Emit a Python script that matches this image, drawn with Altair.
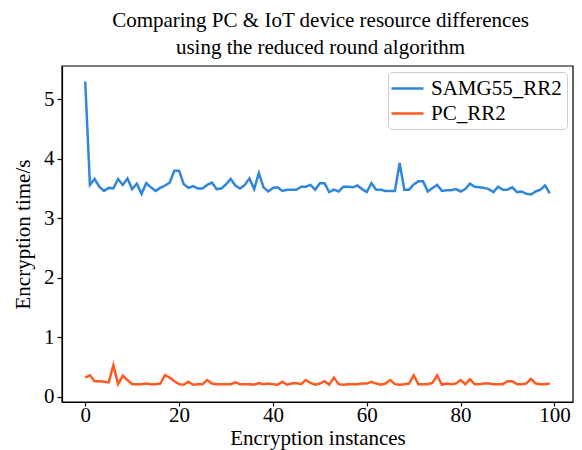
import altair as alt
import pandas as pd

instances = list(range(100))
samg55_rr2 = [5.30, 3.56, 3.66, 3.53, 3.46, 3.51, 3.50, 3.66, 3.56, 3.67,
              3.49, 3.58, 3.41, 3.59, 3.52, 3.46, 3.51, 3.55, 3.60, 3.80,
              3.80, 3.57, 3.51, 3.54, 3.50, 3.50, 3.56, 3.60, 3.49, 3.50,
              3.57, 3.66, 3.55, 3.50, 3.56, 3.67, 3.49, 3.76, 3.52, 3.45,
              3.51, 3.52, 3.46, 3.48, 3.48, 3.48, 3.53, 3.53, 3.56, 3.48,
              3.59, 3.59, 3.44, 3.48, 3.45, 3.53, 3.53, 3.52, 3.55, 3.49,
              3.44, 3.59, 3.48, 3.48, 3.46, 3.46, 3.46, 3.93, 3.48, 3.48,
              3.57, 3.62, 3.62, 3.45, 3.51, 3.56, 3.46, 3.47, 3.47, 3.49,
              3.45, 3.49, 3.58, 3.53, 3.52, 3.51, 3.49, 3.44, 3.53, 3.48,
              3.48, 3.52, 3.44, 3.45, 3.41, 3.40, 3.45, 3.48, 3.55, 3.42]
pc_rr2 = [0.32, 0.36, 0.26, 0.26, 0.25, 0.24, 0.53, 0.21, 0.35, 0.28,
          0.21, 0.21, 0.21, 0.22, 0.21, 0.21, 0.22, 0.36, 0.32, 0.26,
          0.21, 0.20, 0.25, 0.20, 0.21, 0.21, 0.28, 0.22, 0.21, 0.21,
          0.21, 0.21, 0.24, 0.21, 0.21, 0.21, 0.20, 0.23, 0.21, 0.22,
          0.21, 0.20, 0.25, 0.20, 0.22, 0.23, 0.21, 0.28, 0.23, 0.20,
          0.22, 0.26, 0.20, 0.32, 0.21, 0.20, 0.21, 0.21, 0.21, 0.22,
          0.22, 0.25, 0.22, 0.20, 0.22, 0.28, 0.21, 0.20, 0.21, 0.22,
          0.36, 0.21, 0.21, 0.21, 0.23, 0.36, 0.20, 0.22, 0.21, 0.22,
          0.28, 0.21, 0.29, 0.21, 0.21, 0.22, 0.22, 0.21, 0.21, 0.21,
          0.26, 0.26, 0.21, 0.21, 0.22, 0.30, 0.22, 0.21, 0.21, 0.22]
series_names = ["SAMG55_RR2", "PC_RR2"]
series_colors = ["#2f86dc", "#ff5a1f"]
x_ticks = [0, 20, 40, 60, 80, 100]
y_ticks = [0, 1, 2, 3, 4, 5]

df = pd.concat([
    pd.DataFrame({"instance": instances, "time": samg55_rr2, "series": series_names[0]}),
    pd.DataFrame({"instance": instances, "time": pc_rr2, "series": series_names[1]}),
])

FONT = "Liberation Serif"
FS = 21
W, H = 511, 336
x_scale = alt.Scale(domain=[-4.95, 103.95], nice=False, zero=False)
y_scale = alt.Scale(domain=[-0.09, 5.56], nice=False, zero=False)

lines = alt.Chart(df).mark_line(strokeWidth=2.5, clip=True).encode(
    x=alt.X("instance:Q", scale=x_scale,
            axis=alt.Axis(values=x_ticks, title="Encryption instances", format="d",
                          labelPadding=-2, titlePadding=2, tickSize=4)),
    y=alt.Y("time:Q", scale=y_scale,
            axis=alt.Axis(values=y_ticks, title="Encryption time/s", format="d",
                          labelPadding=3, titlePadding=10, tickSize=5)),
    color=alt.Color("series:N",
                    scale=alt.Scale(domain=series_names, range=series_colors),
                    sort=series_names,
                    legend=alt.Legend(title=None, orient="none", legendX=326, legendY=6,
                                      symbolType="M-1.6,0H1.6", symbolSize=400,
                                      symbolOffset=3,
                                      symbolStrokeWidth=2.5, labelFontSize=FS,
                                      labelFont=FONT, labelColor="black",
                                      labelOffset=12,
                                      rowPadding=3, padding=5,
                                      strokeColor="#cccccc", fillColor="white",
                                      cornerRadius=4, labelLimit=300)),
)

frame = alt.Chart(pd.DataFrame({"k": [0]})).mark_rect(
    fillOpacity=0, stroke="black", strokeWidth=1.2
).encode(
    x=alt.value(0), x2=alt.value(W), y=alt.value(0), y2=alt.value(H)
)

chart = alt.layer(lines, frame).properties(
    width=W,
    height=H,
    title=alt.TitleParams(
        ["Comparing PC & IoT device resource differences",
         "using the reduced round algorithm"],
        font=FONT, fontSize=FS, fontWeight="normal", color="black",
        anchor="middle", lineHeight=27, offset=7, dx=3),
    padding={"left": 54, "top": 58, "right": 1, "bottom": 48},
    autosize=alt.AutoSizeParams(type="none"),
).configure_view(
    strokeWidth=0
).configure_axis(
    grid=False, domain=True, domainColor="black", tickColor="black", labelColor="black",
    titleColor="black", labelFont=FONT, titleFont=FONT, labelFontSize=FS,
    titleFontSize=FS, titleFontWeight="normal",
    domainWidth=1.2, tickWidth=1.2
)

chart.save("out.html", embed_options={"renderer": "svg", "actions": False})
